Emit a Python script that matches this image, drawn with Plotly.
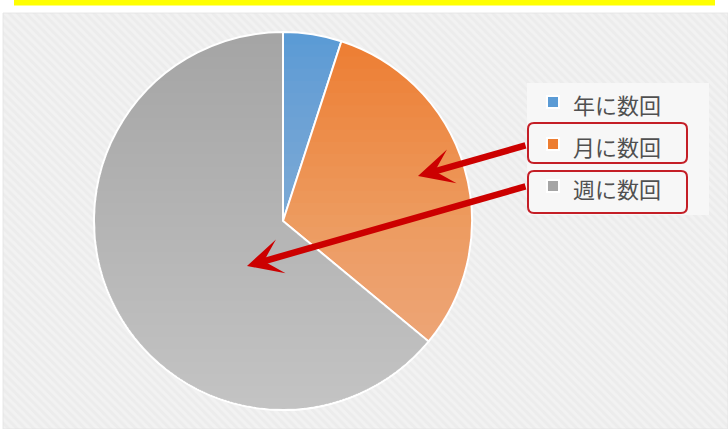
import numpy as np
import plotly.graph_objects as go

# ---- data ----
labels = ["年に数回", "月に数回", "週に数回"]
values = [5, 31, 64]
colors = ["#5b9bd5", "#ed7d31", "#a5a5a5"]

W, H = 728, 429
CX, CY, R = 283, 221, 189

fig = go.Figure()

# background panel with diagonal hatch (pixel coordinate axes)
fig.add_trace(go.Scatter(
    x=[3, 728, 728, 3, 3], y=[13, 13, 429, 429, 13], mode="lines",
    line=dict(width=0.8, color="#e3e3e3"), fill="toself",
    fillcolor="#efefef",
    fillpattern=dict(shape="\\", bgcolor="#ececec", fgcolor="#f8f8f8",
                     size=6, solidity=0.5),
    hoverinfo="skip", showlegend=False))
# lighter legend area
fig.add_trace(go.Scatter(
    x=[527, 709, 709, 527, 527], y=[83, 83, 215, 215, 83], mode="lines",
    line=dict(width=0), fill="toself", fillcolor="#f7f7f7",
    hoverinfo="skip", showlegend=False))

fig.add_trace(go.Pie(
    labels=[f'<span style="font-size:22px">{l}</span>' for l in labels],
    values=values, sort=False, direction="clockwise", rotation=0,
    marker=dict(colors=colors, line=dict(color="white", width=2)),
    textinfo="none", hoverinfo="label+value",
    domain=dict(x=[(CX - R) / W, (CX + R) / W],
                y=[(H - CY - R) / H, (H - CY + R) / H]),
))

shapes = []
# yellow bar on top
shapes.append(dict(type="rect", xref="x", yref="y", x0=14, x1=715, y0=0, y1=5.5,
                   fillcolor="#ffff00", line=dict(width=0), layer="below"))

# vertical light gradient over the pie (cumulative translucent white layers)
n = 30
delta = 1 - 0.58 ** (1 / n)
for k in range(1, n + 1):
    ya = CY - R + k * (2 * R) / (n + 1)
    ys = np.linspace(ya, CY + R, 60)
    xr = CX + np.sqrt(np.clip(R ** 2 - (ys - CY) ** 2, 0, None))
    xl = CX - np.sqrt(np.clip(R ** 2 - (ys - CY) ** 2, 0, None))
    pts = list(zip(xr, ys)) + list(zip(xl[::-1], ys[::-1]))
    path = "M" + " L".join(f"{x:.2f},{y:.2f}" for x, y in pts) + " Z"
    shapes.append(dict(type="path", xref="x", yref="y", path=path,
                       fillcolor=f"rgba(255,255,255,{delta:.4f})",
                       line=dict(width=0), layer="above"))


def rbox(x0, y0, x1, y1, r=6):
    return (f"M{x0+r},{y0} L{x1-r},{y0} Q{x1},{y0} {x1},{y0+r} L{x1},{y1-r} "
            f"Q{x1},{y1} {x1-r},{y1} L{x0+r},{y1} Q{x0},{y1} {x0},{y1-r} "
            f"L{x0},{y0+r} Q{x0},{y0} {x0+r},{y0} Z")


for (y0, y1) in [(123, 163), (171, 213)]:
    shapes.append(dict(type="path", xref="x", yref="y", path=rbox(528, y0, 687, y1),
                       line=dict(color="#c41e26", width=2), layer="above"))

annotations = [
    dict(x=418, y=176, ax=527, ay=145, xref="x", yref="y", axref="x", ayref="y",
         text="", showarrow=True, arrowhead=3, arrowwidth=6.5, arrowsize=0.9,
         arrowcolor="#cc0000", standoff=0),
    dict(x=247, y=266, ax=527, ay=186, xref="x", yref="y", axref="x", ayref="y",
         text="", showarrow=True, arrowhead=3, arrowwidth=6.5, arrowsize=0.9,
         arrowcolor="#cc0000", standoff=0),
]

fig.update_layout(
    width=W, height=H, margin=dict(l=0, r=0, t=0, b=0),
    paper_bgcolor="white", plot_bgcolor="rgba(0,0,0,0)",
    xaxis=dict(range=[0, W], visible=False, fixedrange=True, domain=[0, 1]),
    yaxis=dict(range=[H, 0], visible=False, fixedrange=True, domain=[0, 1]),
    shapes=shapes, annotations=annotations,
    showlegend=True,
    legend=dict(x=533 / W, y=1 - 76 / H, xanchor="left", yanchor="top",
                bgcolor="rgba(0,0,0,0)",
                font=dict(family="Noto Sans CJK JP", size=30, color="#505050")),
    font=dict(family="Noto Sans CJK JP"),
)

fig.write_html("out.html")
